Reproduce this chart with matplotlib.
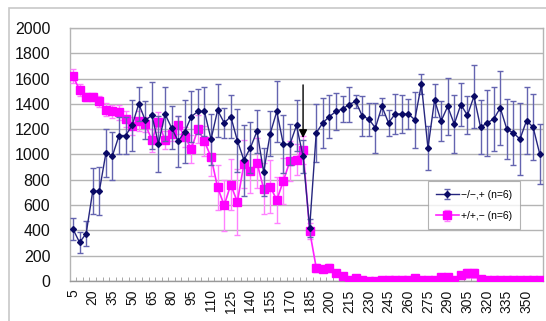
import numpy as np
import matplotlib
matplotlib.use("Agg")
import matplotlib.pyplot as plt
from matplotlib.patches import Rectangle

plt.rcParams['font.family'] = ['Liberation Sans', 'DejaVu Sans']

# --- data ---
times = [str(t) for t in range(5, 365, 5)]          # 5 ... 360

blue_vals = [410, 305, 375, 710, 710, 1010, 990, 1150, 1150, 1230, 1400, 1270,
             1310, 1085, 1320, 1210, 1105, 1180, 1300, 1340, 1340, 1120, 1350, 1250,
             1300, 1110, 955, 1055, 1185, 860, 1165, 1340, 1080, 1080, 1230, 985,
             420, 1170, 1250, 1300, 1340, 1360, 1395, 1420, 1305, 1280, 1210, 1380,
             1250, 1320, 1320, 1320, 1275, 1555, 1050, 1430, 1265, 1380, 1240, 1395,
             1310, 1460, 1215, 1250, 1280, 1368, 1200, 1170, 1122, 1268, 1215, 1005]
blue_err = [85, 85, 100, 180, 190, 190, 190, 150, 150, 200, 135, 150,
            265, 220, 210, 170, 200, 250, 200, 180, 190, 200, 210, 120,
            170, 250, 280, 200, 170, 190, 180, 240, 230, 160, 200, 130,
            70, 230, 200, 170, 150, 100, 140, 50, 160, 130, 200, 70,
            100, 160, 150, 115, 220, 80, 175, 130, 155, 225, 230, 170,
            150, 250, 215, 260, 250, 290, 235, 250, 285, 265, 260, 235]

mag_vals = [1620, 1510, 1455, 1455, 1420, 1355, 1340, 1335, 1280, 1225, 1262, 1240,
            1112, 1258, 1112, 1165, 1232, 1140, 1045, 1200, 1105, 978, 740, 598,
            762, 625, 925, 872, 932, 730, 746, 640, 792, 948, 960, 1036,
            395, 105, 95, 105, 66, 40, 8, 26, 10, 3, 3, 5,
            5, 5, 5, 5, 20, 5, 5, 5, 30, 30, 5, 45, 60, 60,
            15, 5, 5, 5, 5, 5, 5, 5, 5, 5]
mag_err = [55, 50, 35, 30, 45, 50, 55, 60, 60, 70, 80, 60,
           90, 80, 70, 60, 70, 80, 110, 110, 120, 150, 180, 200,
           200, 260, 190, 180, 200, 200, 210, 180, 180, 160, 120, 110,
           60, 30, 25, 30, 20, 15, 10, 10, 8, 5, 5, 5,
           5, 5, 5, 5, 10, 5, 5, 5, 15, 15, 5, 25, 35, 35,
           10, 5, 5, 5, 5, 5, 5, 5, 5, 5]

blue_label = "\u2212/\u2212,+ (n=6)"
mag_label = "+/+,\u2212 (n=6)"

ARROW_AT = "180"
ARROW_FROM, ARROW_TO = 1550, 1130

# --- styles ---
BLUE = "#26267f"
BLUE_MK = "#0a0a66"
BLUE_ERR = "#6464b0"
MAG = "#ff22ff"
MAG_ERR = "#ff80ff"
GRID = "#b4b4b4"

fig = plt.figure(figsize=(5.46, 3.21), dpi=100)
ax = fig.add_axes([0.1277, 0.1246, 0.8668, 0.7882])

x = np.arange(len(times))

ax.errorbar(x, mag_vals, yerr=mag_err, color=MAG, ecolor=MAG_ERR, elinewidth=1.0,
            capsize=2, capthick=1.0, lw=1.2, marker='s', ms=5.5, mec='#ff00ff', mfc='#ff00ff',
            label=mag_label, zorder=3)
ax.errorbar(x, blue_vals, yerr=blue_err, color=BLUE, ecolor=BLUE_ERR, elinewidth=1.0,
            capsize=2, capthick=1.0, lw=1.0, marker='D', ms=3.0, mec=BLUE_MK, mfc=BLUE_MK,
            label=blue_label, zorder=4)

# arrow over the 180 point
xi = times.index(ARROW_AT)
ax.annotate("", xy=(xi, ARROW_TO), xytext=(xi, ARROW_FROM),
            arrowprops=dict(arrowstyle="-|>", color="black", lw=1.0,
                            mutation_scale=12, shrinkA=0, shrinkB=0), zorder=6)

ax.set_xlim(-0.5, len(times) - 0.5)
ax.set_ylim(0, 2000)
ax.set_yticks(np.arange(0, 2001, 200))
ax.yaxis.grid(True, color=GRID, lw=1.0)
ax.set_axisbelow(True)

ax.set_xticks(x[::3])
ax.set_xticklabels(times[::3], rotation=90)
ax.set_xticks(np.arange(len(times) + 1) - 0.5, minor=True)
ax.tick_params(axis='x', which='major', length=0, pad=6, labelsize=10, colors='#111111')
ax.tick_params(axis='x', which='minor', length=3, direction='in', color='#999999')
ax.tick_params(axis='y', length=0, pad=14, labelsize=11.5, colors='#111111')

for side in ['left', 'bottom', 'top', 'right']:
    ax.spines[side].set_color(GRID)
    ax.spines[side].set_linewidth(1.0)
ax.spines['bottom'].set_color('#999999')

handles, labels = ax.get_legend_handles_labels()
leg = ax.legend(handles[::-1], labels[::-1], loc='upper left',
                bbox_to_anchor=(0.745, 0.415), fontsize=7.5, frameon=True,
                fancybox=False, edgecolor='#a0a0a0', handlelength=2.2,
                borderpad=0.8, labelspacing=1.1, handletextpad=0.2)
leg.get_frame().set_linewidth(0.8)

# outer chart frame
fig.patches.append(Rectangle((9 / 546, -0.1), 1.2, 1 - 8 / 321 + 0.1,
                             transform=fig.transFigure, fill=False,
                             edgecolor='#c8c8c8', lw=1.2))

fig.savefig("out.png", dpi=100)
